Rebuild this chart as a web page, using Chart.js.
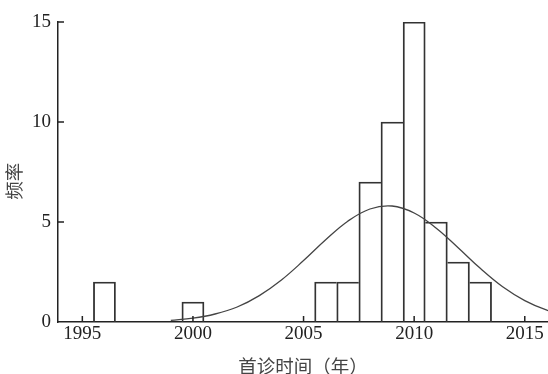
<!DOCTYPE html>
<html>
<head>
<meta charset="utf-8">
<script src="https://cdn.jsdelivr.net/npm/chart.js@4/dist/chart.umd.min.js"></script>
<style>
html,body{margin:0;padding:0;background:#fff;}
#c{display:block;}
</style>
</head>
<body>
<canvas id="c" width="548" height="374"></canvas>
<script>
// Histogram data
const years = [1996, 2000, 2006, 2007, 2008, 2009, 2010, 2011, 2012, 2013];
const counts = [2, 1, 2, 2, 7, 10, 15, 5, 3, 2];
// Fitted normal curve
const curveYears = [1999, 2000, 2001, 2002, 2003, 2004, 2005, 2006, 2007, 2008, 2009, 2010, 2011, 2012, 2013, 2014, 2015, 2016, 2017];
const curveValues = [0.08, 0.19, 0.40, 0.75, 1.32, 2.10, 3.07, 4.11, 5.04, 5.65, 5.80, 5.45, 4.69, 3.70, 2.67, 1.76, 1.07, 0.59, 0.30];
const xTicks = [1995, 2000, 2005, 2010, 2015];
const yTicks = [0, 5, 10, 15];
const xTitle = '首诊时间（年）';
const yTitle = '频率\u3000';

const tickFont = {family: '"Liberation Serif", "DejaVu Serif", serif', size: 19};
const titleFont = {family: '"Noto Sans CJK SC", sans-serif', size: 18.5};

const inwardTicks = {
  id: 'inwardTicks',
  afterDraw(chart) {
    const ctx = chart.ctx;
    const x = chart.scales.x, y = chart.scales.y;
    const a = chart.chartArea;
    ctx.save();
    ctx.strokeStyle = '#222';
    ctx.lineWidth = 1.5;
    ctx.beginPath();
    xTicks.forEach(v => {
      const px = x.getPixelForValue(v);
      ctx.moveTo(px, a.bottom);
      ctx.lineTo(px, a.bottom - 6);
    });
    yTicks.forEach(v => {
      if (v === 0) return;
      const py = y.getPixelForValue(v);
      ctx.moveTo(a.left, py);
      ctx.lineTo(a.left + 6, py);
    });
    ctx.stroke();
    ctx.restore();
  }
};

const bw = 1.2;
function countAt(yr) {
  const i = years.indexOf(yr);
  return i < 0 ? null : counts[i];
}

new Chart(document.getElementById('c'), {
  data: {
    datasets: [
      {
        type: 'line',
        data: curveYears.map((v, i) => ({x: v, y: curveValues[i]})),
        borderColor: '#444',
        borderWidth: 1.3,
        pointRadius: 0,
        tension: 0.4,
        fill: false,
        order: 0
      },
      {
        type: 'bar',
        data: years.map((v, i) => ({x: v, y: counts[i]})),
        backgroundColor: 'rgba(255,255,255,0)',
        borderColor: '#333',
        borderWidth: c => {
          if (!c.raw) return bw;
          const here = c.raw.y;
          const next = countAt(c.raw.x + 1);
          const prev = countAt(c.raw.x - 1);
          return {
            top: bw, bottom: 0,
            right: (next !== null && next >= here) ? 0 : bw,
            left: (prev !== null && prev > here) ? 0 : bw
          };
        },
        borderSkipped: false,
        barPercentage: 1.0,
        categoryPercentage: 1.0,
        grouped: false,
        order: 1
      }
    ]
  },
  options: {
    responsive: false,
    animation: false,
    layout: {padding: {top: 22, right: 0, left: 0, bottom: 0}},
    plugins: {legend: {display: false}, tooltip: {enabled: false}},
    scales: {
      x: {
        type: 'linear',
        offset: false,
        min: 1993.9,
        max: 2016.05,
        afterBuildTicks: s => { s.ticks = xTicks.map(v => ({value: v})); },
        afterFit: s => { s.height = 52; },
        grid: {display: false, drawTicks: false, offset: false},
        border: {display: true, color: '#222', width: 1.5},
        ticks: {font: tickFont, color: '#222', padding: 1, maxRotation: 0, autoSkip: false, callback: v => String(v)},
        title: {display: true, text: xTitle, font: titleFont, color: '#444', padding: {top: 0, bottom: -3}}
      },
      y: {
        min: 0,
        max: 15,
        afterBuildTicks: s => { s.ticks = yTicks.map(v => ({value: v})); },
        afterFit: s => { s.width = 58; },
        grid: {display: false, drawTicks: false},
        border: {display: true, color: '#222', width: 1.5},
        ticks: {font: tickFont, color: '#222', padding: 7},
        title: {display: true, text: yTitle, font: titleFont, color: '#444', padding: {top: 3, bottom: 0}}
      }
    }
  },
  plugins: [inwardTicks]
});
</script>
</body>
</html>
